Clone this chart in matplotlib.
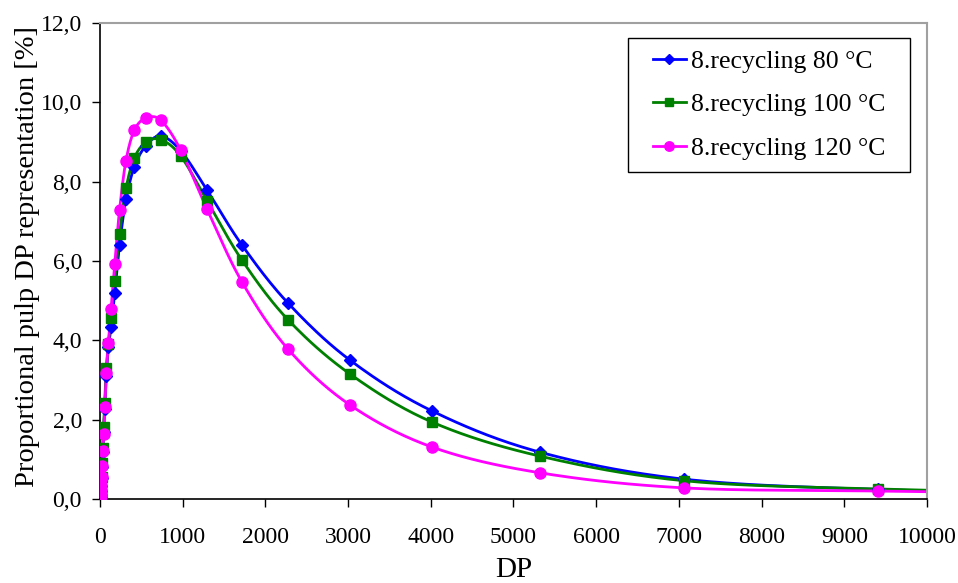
import numpy as np
import matplotlib
matplotlib.use("Agg")
import matplotlib.pyplot as plt
from matplotlib.patches import Rectangle

# ---- data ----
dp = [4.4, 5.9, 7.8, 10.3, 13.7, 18, 24, 32, 43, 57, 76, 101, 134, 178, 236, 314,
      416, 553, 734, 975, 1294, 1717, 2273, 3023, 4014, 5320, 7062, 9407, 12490]

rec_80 = [0.03, 0.06, 0.11, 0.20, 0.33, 0.52, 0.80, 1.18, 1.68, 2.28, 3.10, 3.82,
          4.34, 5.20, 6.40, 7.55, 8.38, 8.90, 9.15, 8.78, 7.79, 6.40, 4.94, 3.50,
          2.22, 1.18, 0.50, 0.24, 0.12]
rec_100 = [0.04, 0.07, 0.13, 0.22, 0.36, 0.56, 0.90, 1.29, 1.81, 2.43, 3.29, 3.90,
           4.57, 5.50, 6.68, 7.83, 8.60, 8.99, 9.06, 8.65, 7.52, 6.02, 4.52, 3.15,
           1.94, 1.08, 0.46, 0.25, 0.12]
rec_120 = [0.04, 0.07, 0.13, 0.22, 0.35, 0.55, 0.83, 1.22, 1.64, 2.31, 3.18, 3.94,
           4.78, 5.92, 7.28, 8.53, 9.30, 9.60, 9.55, 8.80, 7.31, 5.47, 3.78, 2.37,
           1.31, 0.66, 0.28, 0.20, 0.12]

labels = ["8.recycling 80 °C", "8.recycling 100 °C", "8.recycling 120 °C"]
colors = ["#0000ff", "#008000", "#ff00ff"]
markers = ["D", "s", "o"]
msizes = [6.3, 7.5, 8]

x_ticks = [0, 1000, 2000, 3000, 4000, 5000, 6000, 7000, 8000, 9000, 10000]
y_ticks = [0, 2, 4, 6, 8, 10, 12]


def smooth(x, y, xspan=10000.0, yspan=12.0, n=20):
    """Catmull-Rom smoothing in normalized display space (like a smoothed scatter)."""
    px = np.asarray(x, float) / xspan * 827.0
    py = np.asarray(y, float) / yspan * 476.0
    P = np.column_stack([px, py])
    P = np.vstack([P[0], P, P[-1]])
    out = []
    t = np.linspace(0, 1, n, endpoint=False)[:, None]
    for i in range(1, len(P) - 2):
        p0, p1, p2, p3 = P[i - 1], P[i], P[i + 1], P[i + 2]
        c = 0.5 * ((2 * p1) + (-p0 + p2) * t + (2 * p0 - 5 * p1 + 4 * p2 - p3) * t ** 2
                   + (-p0 + 3 * p1 - 3 * p2 + p3) * t ** 3)
        out.append(c)
    out.append(P[-2][None, :])
    out = np.vstack(out)
    return out[:, 0] / 827.0 * xspan, out[:, 1] / 476.0 * yspan


plt.rcParams['font.family'] = ['Liberation Serif', 'DejaVu Serif']

fig = plt.figure(figsize=(9.58, 5.83), dpi=100)
ax = fig.add_axes([0.1044, 0.1441, 0.8632, 0.8165])

for ys, lab, col, mk, ms in zip([rec_80, rec_100, rec_120], labels, colors, markers, msizes):
    sx, sy = smooth(dp, ys)
    ax.plot(sx, sy, color=col, lw=2.0, zorder=2)
    ax.plot(dp, ys, linestyle='none', marker=mk, color=col, markersize=ms, zorder=3)
    ax.plot([], [], color=col, lw=2.0, marker=mk, markersize=ms * 0.85, label=lab)

ax.set_xlim(0, 10000)
ax.set_ylim(0, 12)
ax.set_xticks(x_ticks)
ax.set_xticklabels([str(v) for v in x_ticks])
ax.set_yticks(y_ticks)
ax.set_yticklabels([f"{v:.1f}".replace('.', ',') for v in y_ticks])
ax.tick_params(axis='both', labelsize=17, direction='out', length=6, width=1)
ax.tick_params(axis='x', pad=14)
ax.tick_params(axis='y', pad=7)

for s in ['left', 'bottom']:
    ax.spines[s].set_color('black')
    ax.spines[s].set_linewidth(1.2)
for s in ['top', 'right']:
    ax.spines[s].set_color('#a0a0a0')
    ax.spines[s].set_linewidth(1.5)

ax.set_xlabel("DP", fontsize=21, va='center')
ax.xaxis.set_label_coords(0.5, -0.149)
ax.set_ylabel("Proportional pulp DP representation [%]", fontsize=20.5, va='center')
ax.yaxis.set_label_coords(-0.088, 0.51)

# legend box (frame drawn separately to match the wide padding)
bx0, bx1, by0, by1 = 0.6385, 0.9794, 0.687, 0.9685
ax.add_patch(Rectangle((bx0, by0), bx1 - bx0, by1 - by0, transform=ax.transAxes,
                       facecolor='white', edgecolor='black', lw=1.0, zorder=4))
leg = ax.legend(loc='center', bbox_to_anchor=((bx0 + bx1) / 2, (by0 + by1) / 2),
                fontsize=18.5, frameon=False, handlelength=1.3,
                handletextpad=0.2, labelspacing=0.8, borderpad=0.0, borderaxespad=0.0)
leg.set_zorder(5)

fig.savefig("out.png", dpi=100)
